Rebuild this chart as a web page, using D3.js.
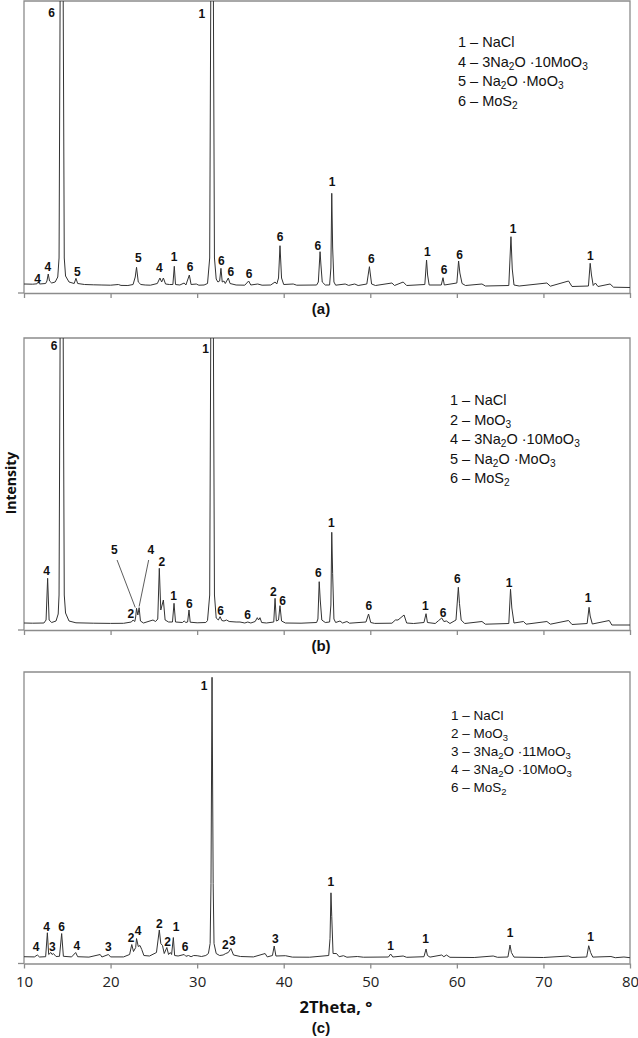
<!DOCTYPE html>
<html>
<head>
<meta charset="utf-8">
<script src="https://cdn.jsdelivr.net/npm/d3@7"></script>
<style>
  body { margin: 0; background: #fff; }
  svg { display: block; }
  .tick line { stroke: #8c8c8c; stroke-width: 1.3; }
  .domain { stroke: #8c8c8c; stroke-width: 1.3; }
  .tick text { font-family: "Open Sans", sans-serif; font-size: 15px; fill: #222; }
</style>
</head>
<body>
<div class="chart"></div>
<script>
const svgWidth = 638
const svgHeight = 1038

// XRD traces: [2theta, intensity (a.u.)]
const patternA = [
  [10, 90], [11.0, 88], [11.5, 92], [11.65, 110], [11.8, 90], [12.5, 95], [12.65, 120], [12.8, 190],
  [12.95, 120], [13.2, 100], [13.6, 110], [13.9, 160], [14.05, 350], [14.17, 2900], [14.35, 9000],
  [14.53, 2900], [14.65, 350], [14.8, 170], [15.2, 110], [15.8, 95], [16.0, 147], [16.2, 95], [17, 85],
  [18, 82], [19, 80], [20, 78], [20.9, 85], [21.2, 76], [22.0, 75], [22.6, 85], [22.85, 160], [23.0, 257],
  [23.2, 110], [23.5, 85], [24.0, 80], [24.6, 78], [25.4, 95], [25.7, 150], [25.9, 110], [26.1, 150],
  [26.35, 90], [26.8, 85], [27.2, 85], [27.36, 267], [27.5, 85], [28.0, 80], [28.5, 100], [28.7, 80],
  [29.1, 180], [29.3, 85], [29.9, 90], [30.2, 78], [30.8, 80], [31.2, 95], [31.45, 350], [31.57, 2900],
  [31.72, 9000], [31.88, 2900], [32.0, 350], [32.2, 140], [32.4, 110], [32.6, 120], [32.75, 247],
  [32.9, 110], [33.1, 120], [33.25, 95], [33.6, 150], [33.8, 95], [34.5, 80], [35.5, 78], [35.95, 120],
  [36.2, 80], [37.0, 90], [37.5, 78], [38.5, 80], [39.0, 110], [39.2, 90], [39.4, 150], [39.57, 473],
  [39.75, 150], [40.0, 85], [41.1, 90], [41.5, 78], [43.8, 80], [44.0, 110], [44.2, 413], [44.3, 280],
  [44.45, 110], [44.8, 80], [45.3, 80], [45.45, 250], [45.55, 997], [45.65, 460], [45.8, 110], [46.0, 78],
  [47.1, 90], [47.5, 76], [48.2, 90], [48.6, 75], [49.6, 90], [49.9, 263], [50.15, 90], [50.6, 75],
  [52.5, 100], [52.8, 75], [53.8, 110], [54.2, 75], [56.3, 85], [56.5, 330], [56.62, 180], [56.8, 80],
  [58.2, 80], [58.4, 153], [58.55, 80], [60.0, 100], [60.2, 320], [60.35, 200], [60.6, 95], [61, 75],
  [62.9, 90], [63.3, 70], [66.0, 75], [66.25, 563], [66.4, 240], [66.6, 80], [67.2, 70], [70.4, 100],
  [70.8, 68], [72.9, 120], [73.3, 65], [75.2, 70], [75.4, 297], [75.55, 180], [75.75, 75], [76.0, 100],
  [76.3, 65], [77.7, 90], [78.1, 58], [80, 55]
]

const patternB = [
  [10, 70], [11, 68], [12.3, 70], [12.55, 100], [12.73, 517], [12.9, 100], [13.2, 75], [13.7, 90],
  [13.95, 160], [14.05, 350], [14.17, 2900], [14.35, 9000], [14.53, 2900], [14.65, 350], [14.8, 170],
  [15.2, 90], [16, 72], [18, 68], [20, 66], [21.5, 67], [22.4, 80], [22.6, 100], [22.8, 85], [22.9, 130],
  [23.0, 217], [23.15, 150], [23.3, 223], [23.45, 90], [23.8, 70], [24.9, 100], [25.2, 85], [25.45, 110],
  [25.63, 617], [25.8, 200], [26.1, 300], [26.3, 100], [26.7, 80], [27.15, 80], [27.33, 267], [27.5, 80],
  [28.3, 75], [28.5, 90], [28.7, 75], [28.9, 80], [29.06, 200], [29.2, 78], [30, 72], [31.0, 75],
  [31.2, 95], [31.45, 350], [31.57, 2900], [31.72, 9000], [31.88, 2900], [32.0, 350], [32.2, 120],
  [32.45, 100], [32.65, 133], [32.85, 95], [33.1, 90], [33.4, 100], [33.7, 85], [34.5, 80], [34.95, 80],
  [35.5, 70], [35.85, 80], [36.2, 70], [36.7, 85], [36.95, 123], [37.1, 100], [37.26, 123], [37.45, 75],
  [38.0, 70], [38.85, 80], [39.0, 317], [39.15, 90], [39.4, 100], [39.57, 243], [39.75, 90], [40.2, 70],
  [42, 68], [43.8, 75], [43.95, 110], [44.1, 483], [44.22, 300], [44.4, 100], [44.8, 75], [45.3, 80],
  [45.45, 250], [45.55, 977], [45.65, 567], [45.8, 110], [46.0, 75], [46.5, 90], [46.8, 70], [47.3, 85],
  [47.6, 68], [49.5, 80], [49.8, 160], [50.05, 75], [50.5, 66], [52.5, 68], [52.9, 100], [53.2, 100],
  [53.9, 150], [54.2, 70], [55, 65], [56.2, 75], [56.44, 163], [56.6, 75], [57.5, 65], [57.9, 95],
  [58.25, 120], [58.5, 85], [58.8, 90], [59.2, 65], [59.9, 100], [60.17, 427], [60.3, 267], [60.5, 100],
  [60.9, 65], [62.9, 85], [63.3, 58], [66.0, 65], [66.2, 407], [66.35, 220], [66.6, 70], [67.7, 85],
  [68.0, 58], [70.4, 85], [70.8, 58], [72.9, 95], [73.3, 55], [75.05, 65], [75.27, 227], [75.4, 140],
  [75.65, 60], [77.6, 95], [77.9, 50], [80, 50]
]

const patternC = [
  [10, 68], [11.2, 66], [11.54, 85], [11.8, 65], [12.5, 68], [12.7, 308], [12.85, 90], [13.1, 110],
  [13.25, 90], [13.4, 100], [13.7, 70], [14.1, 72], [14.35, 300], [14.55, 72], [15.5, 66], [15.97, 110],
  [16.2, 68], [17.5, 64], [18.8, 90], [19.0, 65], [19.75, 90], [20.0, 66], [21.5, 66], [22.2, 90],
  [22.45, 190], [22.65, 120], [22.9, 160], [23.0, 250], [23.2, 170], [23.4, 180], [23.6, 140], [23.85, 80],
  [24.5, 75], [25.3, 110], [25.63, 335], [25.8, 200], [26.0, 180], [26.2, 100], [26.5, 160], [26.7, 90],
  [26.9, 110], [27.05, 90], [27.25, 260], [27.4, 80], [27.8, 75], [28.5, 90], [28.7, 72], [29.0, 80],
  [29.3, 68], [29.6, 80], [30.0, 78], [30.5, 70], [31.0, 80], [31.3, 100], [31.5, 200], [31.6, 800],
  [31.72, 2867], [31.85, 800], [31.95, 200], [32.2, 100], [32.6, 80], [33.0, 85], [33.3, 100], [33.6, 110],
  [33.9, 150], [34.2, 85], [35.0, 70], [36.5, 66], [37.85, 100], [38.1, 66], [38.7, 80], [38.9, 175],
  [39.1, 75], [40.2, 78], [41, 64], [43, 63], [45.2, 80], [45.35, 250], [45.46, 708], [45.55, 470],
  [45.7, 100], [46.1, 100], [46.4, 68], [46.9, 78], [47.3, 63], [48.5, 70], [49.2, 63], [52.1, 65],
  [52.35, 95], [52.6, 65], [53.8, 75], [54.2, 62], [56.2, 68], [56.44, 145], [56.6, 80], [56.9, 64],
  [58.25, 85], [58.5, 68], [58.8, 85], [59.2, 62], [62, 60], [64.2, 75], [64.7, 62], [65.9, 65],
  [66.14, 185], [66.3, 110], [66.6, 64], [70, 60], [72.9, 75], [73.3, 60], [75.0, 65], [75.23, 178],
  [75.45, 110], [75.7, 64], [77.8, 70], [78.3, 58], [79.3, 65], [80, 58]
]

// peak labels: [2theta, intensity where the label sits, phase number]
const labelsA = [
  [13.2, 2760, "6"], [30.53, 2750, "1"], [11.58, 100, "4"], [12.74, 220, "4"], [16.16, 170, "5"],
  [23.2, 310, "5"], [25.63, 210, "4"], [27.33, 320, "1"], [29.18, 220, "6"], [32.79, 280, "6"],
  [33.88, 170, "6"], [35.99, 150, "6"], [39.57, 520, "6"], [43.93, 430, "6"], [45.58, 1070, "1"],
  [50.12, 300, "6"], [56.59, 370, "1"], [58.52, 190, "6"], [60.33, 340, "6"], [66.49, 600, "1"],
  [75.42, 330, "1"]
]
const labelsB = [
  [13.47, 2800, "6"], [30.99, 2770, "1"], [12.62, 555, "4"], [20.43, 760, "5"], [24.64, 760, "4"],
  [25.91, 645, "2"], [22.33, 120, "2"], [27.29, 305, "1"], [29.09, 220, "6"], [32.72, 155, "6"],
  [35.84, 110, "6"], [38.8, 340, "2"], [39.88, 255, "6"], [44.0, 530, "6"], [45.5, 1030, "1"],
  [49.82, 205, "6"], [56.36, 205, "1"], [58.4, 130, "6"], [60.05, 470, "6"], [66.02, 430, "1"],
  [75.15, 280, "1"]
]
const labelsC = [
  [30.79, 2740, "1"], [11.39, 125, "4"], [12.62, 325, "4"], [13.27, 125, "3"], [14.35, 330, "6"],
  [16.09, 140, "4"], [19.74, 125, "3"], [22.36, 215, "2"], [23.17, 290, "4"], [25.63, 355, "2"],
  [26.6, 180, "2"], [27.56, 330, "1"], [28.6, 125, "6"], [33.25, 150, "2"], [34.06, 190, "3"],
  [39.03, 205, "3"], [45.43, 775, "1"], [52.36, 140, "1"], [56.4, 205, "1"], [66.14, 265, "1"],
  [75.46, 225, "1"]
]

// leader lines in (b): [[2theta, I], [2theta, I]]
const leadersB = [
  [[20.75, 700], [22.85, 225]],
  [[24.4, 700], [23.3, 235]]
]

// phase legends, "_n" marks a subscript
const legendA = ["1 – NaCl", "4 – 3Na_2O ·10MoO_3", "5 – Na_2O ·MoO_3", "6 – MoS_2"]
const legendB = ["1 – NaCl", "2 – MoO_3", "4 – 3Na_2O ·10MoO_3", "5 – Na_2O ·MoO_3", "6 – MoS_2"]
const legendC = ["1 – NaCl", "2 – MoO_3", "3 – 3Na_2O ·11MoO_3", "4 – 3Na_2O ·10MoO_3", "6 – MoS_2"]

const xTicks = [10, 20, 30, 40, 50, 60, 70, 80]
const panelTags = ["(a)", "(b)", "(c)"]

const left = 24, right = 630
const yMax = 2920

const panels = [
  { top: 1, axisY: 293, data: patternA, labels: labelsA, leaders: [], legend: legendA,
    legendX: 458, legendY: 47, legendStep: 19.5, legendSize: 14.5, tagY: 314, tickLabels: false },
  { top: 338, axisY: 630, data: patternB, labels: labelsB, leaders: leadersB, legend: legendB,
    legendX: 450, legendY: 405, legendStep: 19.6, legendSize: 14.5, tagY: 651, tickLabels: false },
  { top: 672, axisY: 963.5, data: patternC, labels: labelsC, leaders: [], legend: legendC,
    legendX: 451, legendY: 720, legendStep: 17.9, legendSize: 13.5, tagY: 1033, tickLabels: true }
]

let svg = d3
  .select(".chart")
  .append("svg")
  .attr("width", svgWidth)
  .attr("height", svgHeight)

let x = d3.scaleLinear().domain([10, 80]).range([left, right])

panels.forEach((p, i) => {
  let y = d3.scaleLinear().domain([0, yMax]).range([p.axisY, p.top])
  let g = svg.append("g")

  g.append("clipPath")
    .attr("id", "clip" + i)
    .append("rect")
    .attr("x", left)
    .attr("y", p.top)
    .attr("width", right - left)
    .attr("height", p.axisY - p.top)

  // frame: left, top, right
  g.append("path")
    .attr("d", `M${left},${p.axisY}V${p.top}H${right}V${p.axisY}`)
    .attr("fill", "none")
    .attr("stroke", "#8c8c8c")
    .attr("stroke-width", 1.3)

  let bottomAxis = d3.axisBottom(x)
    .tickValues(xTicks)
    .tickSize(5)
    .tickSizeOuter(0)
    .tickPadding(8)
    .tickFormat(p.tickLabels ? d3.format("d") : "")

  g.append("g")
    .attr("transform", `translate(0, ${p.axisY})`)
    .call(bottomAxis)

  g.append("line")
    .attr("x1", left - 6)
    .attr("x2", left)
    .attr("y1", p.axisY)
    .attr("y2", p.axisY)
    .attr("stroke", "#8c8c8c")
    .attr("stroke-width", 1.3)

  let line = d3.line()
    .x(d => x(d[0]))
    .y(d => y(d[1]))

  g.append("path")
    .datum(p.data)
    .attr("clip-path", `url(#clip${i})`)
    .attr("d", line)
    .attr("fill", "none")
    .attr("stroke", "#333")
    .attr("stroke-width", 1)
    .attr("stroke-linejoin", "round")

  g.selectAll(".leader")
    .data(p.leaders)
    .enter()
    .append("line")
    .attr("x1", d => x(d[0][0]))
    .attr("y1", d => y(d[0][1]))
    .attr("x2", d => x(d[1][0]))
    .attr("y2", d => y(d[1][1]))
    .attr("stroke", "#333")
    .attr("stroke-width", 0.8)

  g.selectAll(".peak")
    .data(p.labels)
    .enter()
    .append("text")
    .attr("x", d => x(d[0]))
    .attr("y", d => y(d[1]))
    .attr("text-anchor", "middle")
    .style("font-family", "'Liberation Sans', Arial, sans-serif")
    .style("font-weight", "bold")
    .style("font-size", "12px")
    .attr("fill", "#111")
    .text(d => d[2])

  // legend with subscripts
  p.legend.forEach((entry, k) => {
    let t = g.append("text")
      .attr("x", p.legendX)
      .attr("y", p.legendY + k * p.legendStep)
      .style("font-family", "'Liberation Sans', Arial, sans-serif")
      .style("font-size", p.legendSize + "px")
      .attr("fill", "#111")
    let parts = entry.split(/_(\d+)/)
    parts.forEach((s, j) => {
      if (s === "") return
      let sub = j % 2 === 1
      t.append("tspan")
        .attr("dy", sub ? 3 : (j > 0 ? -3 : 0))
        .style("font-size", sub ? "0.7em" : null)
        .text(s)
    })
  })

  g.append("text")
    .attr("x", 321)
    .attr("y", p.tagY)
    .attr("text-anchor", "middle")
    .style("font-family", "'Liberation Sans', Arial, sans-serif")
    .style("font-weight", "bold")
    .style("font-size", "15px")
    .attr("fill", "#111")
    .text(panelTags[i])
})

svg.append("text")
  .attr("transform", "translate(16, 483) rotate(-90)")
  .attr("text-anchor", "middle")
  .style("font-family", "'Open Sans', sans-serif")
  .style("font-weight", "bold")
  .style("font-size", "14px")
  .attr("fill", "#111")
  .text("Intensity")

svg.append("text")
  .attr("x", 336)
  .attr("y", 1013)
  .attr("text-anchor", "middle")
  .style("font-family", "'Open Sans', sans-serif")
  .style("font-weight", "bold")
  .style("font-size", "16.5px")
  .attr("fill", "#111")
  .text("2Theta, °")
</script>
</body>
</html>
